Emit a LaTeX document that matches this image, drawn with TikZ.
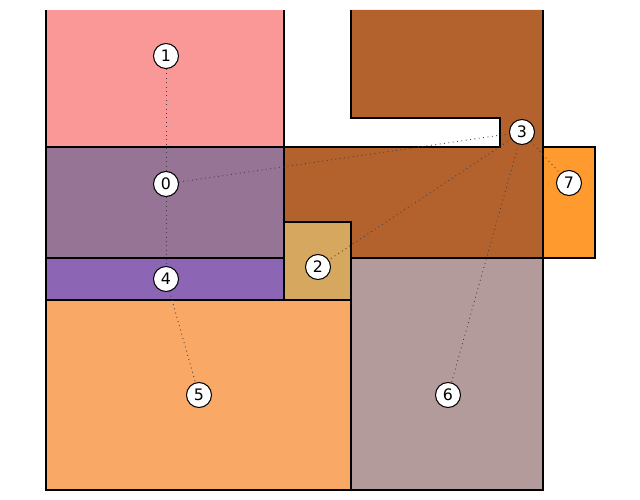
\documentclass[tikz,border=0pt]{standalone}
\usepackage{fontspec}
\setsansfont{DejaVu Sans}
\definecolor{roomA}{RGB}{250,152,152}
\definecolor{roomB}{RGB}{149,116,150}
\definecolor{roomC}{RGB}{214,167,94}
\definecolor{roomD}{RGB}{179,98,46}
\definecolor{roomE}{RGB}{140,101,180}
\definecolor{roomF}{RGB}{249,168,101}
\definecolor{roomG}{RGB}{179,155,155}
\definecolor{roomH}{RGB}{255,155,46}
\begin{document}
\begin{tikzpicture}[x=0.02cm, y=-0.02cm,
room/.style={draw=black, line width=0.6pt},
site/.style={draw=black, fill=white, circle, line width=0.6pt, minimum size=0.5cm, inner sep=0pt, font=\sffamily\small},
link/.style={dotted, draw=black!75, line width=0.5pt}
]
\useasboundingbox (0,0) rectangle (640,500);
% rooms
\fill[roomA] (46,10) rectangle (284,147);
\draw[room] (46,10) -- (46,147) -- (284,147) -- (284,10);
\filldraw[room, fill=roomB] (46,147) rectangle (284,258);
\filldraw[room, fill=roomE] (46,258) rectangle (284,300);
\filldraw[room, fill=roomF] (46,300) rectangle (351,490);
\filldraw[room, fill=roomG] (351,258) rectangle (543,490);
\filldraw[room, fill=roomC] (284,222) rectangle (351,300);
\fill[roomD] (351,10) -- (543,10) -- (543,258) -- (351,258) -- (351,222) -- (284,222)
  -- (284,147) -- (500,147) -- (500,118) -- (351,118) -- cycle;
\draw[room] (351,10) -- (351,118) -- (500,118) -- (500,147) -- (284,147) -- (284,222)
  -- (351,222) -- (351,258) -- (543,258) -- (543,10);
\filldraw[room, fill=roomH] (543,147) rectangle (595,258);
% sites
\node[site] (n0) at (166,184) {0};
\node[site] (n1) at (166,56) {1};
\node[site] (n2) at (318,267) {2};
\node[site] (n3) at (522,132) {3};
\node[site] (n4) at (166,279) {4};
\node[site] (n5) at (199,395) {5};
\node[site] (n6) at (448,395) {6};
\node[site] (n7) at (569,183) {7};
% links
\draw[link] (n1) -- (n0);
\draw[link] (n0) -- (n4);
\draw[link] (n4) -- (n5);
\draw[link] (n0) -- (n3);
\draw[link] (n3) -- (n2);
\draw[link] (n3) -- (n6);
\draw[link] (n3) -- (n7);
\end{tikzpicture}
\end{document}
